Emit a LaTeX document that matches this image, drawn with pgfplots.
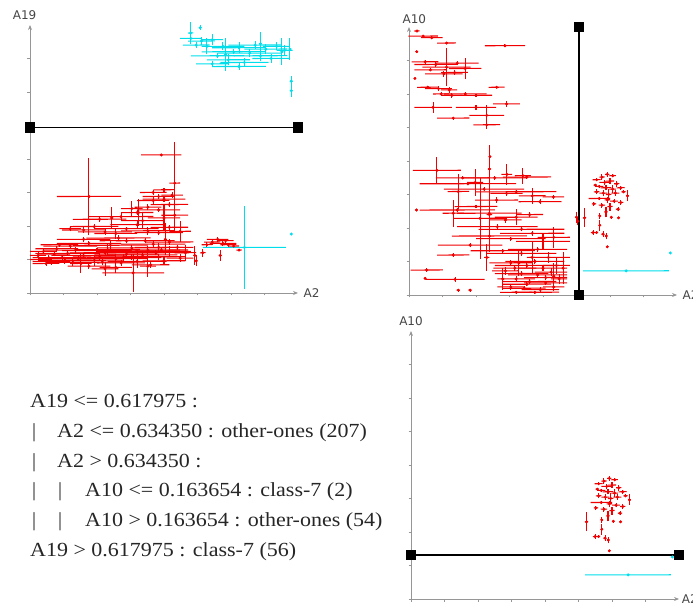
\documentclass[border=0pt]{standalone}
\usepackage{fontspec}
\setmainfont{Liberation Serif}
\newfontfamily\lblfont{DejaVu Sans}
\usepackage{graphicx}
\usepackage{pgfplots}
\pgfplotsset{compat=1.18}
\usepackage{pgfplotstable}
\usetikzlibrary{arrows.meta}

\definecolor{cls}{RGB}{0,222,235}
\definecolor{oth}{RGB}{240,0,0}
\definecolor{axgray}{RGB}{150,150,150}
\definecolor{lblgray}{RGB}{70,70,70}

\pgfplotsset{
  treeaxis/.style={
    scale only axis, width=268bp, height=268bp,
    xmin=0, xmax=1, ymin=0, ymax=1,
    axis lines=left,
    axis line style={axgray, line width=0.8bp, -{Stealth[length=5bp,width=4bp]}},
    xtick={0,0.125,...,0.875}, ytick={0,0.125,...,0.875},
    xticklabels={}, yticklabels={},
    tick align=outside, major tick length=2.5bp,
    tick style={axgray, line width=0.6bp},
    clip=false, anchor=south west,
  },
  split/.style={black, line width=1.6bp, mark=square*, mark size=4.5bp},
}
\tikzset{lbl/.style={font=\lblfont\fontsize{12bp}{12bp}\selectfont, text=lblgray, inner sep=0pt}}
\newcommand\treetxt[1]{\scalebox{1.1}[1]{#1}}

% one series: horizontal spread, vertical spread, then the points
\newcommand\errseries[3][]{%
  \addplot[draw=#2, color=#2, line width=1.05bp, quiver={u=2*\thisrow{ex}, v=0.0004}, #1]
    table[x expr=\thisrow{x}-\thisrow{ex}, y=y] {#3};
  \addplot[draw=#2, color=#2, line width=1.05bp, quiver={u=0, v=2*\thisrow{ey}}, #1]
    table[x=x, y expr=\thisrow{y}-\thisrow{ey}] {#3};
  \addplot[#2, only marks, mark=*, mark size=1.3bp, #1] table[x=x, y=y] {#3};
}

% A2, A19 and their spreads, other-ones
\pgfplotstableread{
x y ex ey
0.04 0.125 0.04 0.010
0.08 0.118 0.07 0.012
0.12 0.132 0.09 0.008
0.16 0.114 0.10 0.015
0.20 0.140 0.12 0.010
0.24 0.122 0.11 0.020
0.28 0.150 0.13 0.012
0.32 0.128 0.12 0.018
0.36 0.145 0.12 0.010
0.40 0.118 0.11 0.025
0.44 0.160 0.12 0.015
0.48 0.135 0.10 0.012
0.52 0.155 0.08 0.020
0.55 0.170 0.06 0.010
0.58 0.150 0.04 0.030
0.05 0.155 0.05 0.010
0.10 0.165 0.08 0.012
0.15 0.175 0.10 0.010
0.22 0.185 0.12 0.008
0.30 0.178 0.14 0.015
0.38 0.168 0.13 0.010
0.46 0.182 0.12 0.012
0.52 0.190 0.09 0.010
0.14 0.148 0.12 0.010
0.26 0.138 0.10 0.014
0.34 0.112 0.09 0.010
0.42 0.142 0.13 0.012
0.50 0.120 0.08 0.015
0.03 0.140 0.03 0.012
0.18 0.128 0.15 0.010
0.29 0.162 0.12 0.020
0.36 0.195 0.10 0.010
0.45 0.105 0.07 0.010
0.22 0.100 0.08 0.012
0.32 0.095 0.06 0.020
0.56 0.130 0.05 0.015
0.09 0.145 0.06 0.008
0.40 0.155 0.15 0.010
0.48 0.170 0.09 0.018
0.19 0.110 0.04 0.035
0.28 0.090 0.05 0.025
0.44 0.100 0.03 0.040
0.07 0.132 0.06 0.010
0.13 0.122 0.10 0.012
0.25 0.158 0.13 0.010
0.35 0.132 0.14 0.012
0.47 0.150 0.11 0.010
0.11 0.180 0.07 0.008
0.20 0.200 0.10 0.010
0.33 0.205 0.12 0.012
0.43 0.195 0.11 0.010
0.06 0.110 0.05 0.008
0.17 0.160 0.12 0.010
0.27 0.115 0.12 0.010
0.38 0.135 0.14 0.012
0.49 0.160 0.10 0.010
0.20 0.235 0.08 0.010
0.28 0.228 0.10 0.012
0.36 0.240 0.12 0.008
0.44 0.232 0.10 0.015
0.52 0.245 0.07 0.010
0.24 0.248 0.09 0.008
0.32 0.222 0.08 0.020
0.48 0.225 0.09 0.010
0.40 0.255 0.10 0.012
0.56 0.230 0.04 0.040
0.15 0.240 0.04 0.010
0.26 0.275 0.10 0.010
0.34 0.285 0.12 0.015
0.42 0.270 0.08 0.030
0.50 0.280 0.06 0.050
0.40 0.300 0.06 0.010
0.44 0.320 0.05 0.012
0.48 0.310 0.08 0.008
0.52 0.330 0.07 0.010
0.46 0.345 0.06 0.015
0.38 0.315 0.04 0.030
0.54 0.290 0.05 0.060
0.50 0.350 0.08 0.010
0.46 0.375 0.05 0.010
0.50 0.385 0.04 0.008
0.53 0.365 0.04 0.012
0.48 0.360 0.06 0.010
0.22 0.360 0.12 0.145
0.49 0.515 0.075 0.005
0.54 0.410 0.02 0.155
0.385 0.075 0.115 0.07
0.505 0.200 0.005 0.06
0.405 0.300 0.005 0.05
0.305 0.280 0.005 0.04
0.615 0.140 0.005 0.035
0.62 0.120 0.005 0.02
0.645 0.150 0.01 0.015
0.71 0.140 0.005 0.02
0.78 0.160 0.01 0.005
0.68 0.190 0.03 0.01
0.70 0.200 0.04 0.008
0.72 0.185 0.05 0.01
0.74 0.180 0.03 0.008
0.76 0.175 0.02 0.006
0.66 0.180 0.02 0.01
0.73 0.195 0.03 0.008
}\othAtwoAnineteen

% A2, A19, class-7
\pgfplotstableread{
x y ex ey
0.60 0.950 0.04 0.02
0.64 0.940 0.05 0.015
0.68 0.945 0.04 0.02
0.62 0.925 0.05 0.01
0.72 0.920 0.08 0.015
0.78 0.915 0.10 0.02
0.84 0.925 0.10 0.015
0.88 0.910 0.08 0.02
0.92 0.920 0.05 0.015
0.95 0.905 0.03 0.02
0.76 0.900 0.12 0.01
0.82 0.895 0.12 0.015
0.70 0.885 0.10 0.01
0.86 0.885 0.10 0.02
0.90 0.875 0.07 0.015
0.74 0.870 0.08 0.02
0.80 0.860 0.09 0.015
0.68 0.855 0.06 0.01
0.78 0.845 0.10 0.012
0.60 0.970 0.01 0.04
0.635 0.990 0.005 0.01
0.73 0.890 0.005 0.06
0.94 0.900 0.005 0.05
0.97 0.910 0.005 0.04
0.975 0.790 0.005 0.02
0.975 0.755 0.005 0.025
0.86 0.930 0.005 0.045
0.66 0.920 0.005 0.03
0.80 0.170 0.155 0.155
0.975 0.220 0 0
}\clsAtwoAnineteen

% A2, A10, other-ones with A19 <= 0.617975
\pgfplotstableread{
x y ex ey
0.053 0.966 0.055 0.005
0.030 0.985 0.010 0.004
0.085 0.960 0.040 0.006
0.140 0.940 0.035 0.005
0.358 0.930 0.075 0.005
0.029 0.908 0.004 0.004
0.060 0.870 0.050 0.008
0.100 0.860 0.080 0.010
0.140 0.850 0.090 0.070
0.180 0.865 0.080 0.008
0.210 0.845 0.060 0.040
0.080 0.840 0.060 0.006
0.130 0.825 0.070 0.010
0.170 0.830 0.050 0.008
0.022 0.808 0.003 0.003
0.070 0.775 0.040 0.006
0.110 0.770 0.050 0.008
0.150 0.765 0.030 0.010
0.120 0.750 0.030 0.006
0.160 0.745 0.040 0.010
0.210 0.750 0.080 0.008
0.250 0.745 0.060 0.006
0.327 0.775 0.030 0.004
0.090 0.700 0.070 0.020
0.250 0.700 0.075 0.008
0.364 0.713 0.050 0.010
0.165 0.660 0.060 0.006
0.290 0.670 0.065 0.040
0.290 0.635 0.050 0.015
0.302 0.516 0.004 0.045
0.104 0.465 0.090 0.050
0.300 0.470 0.006 0.060
0.200 0.437 0.100 0.006
0.320 0.437 0.120 0.008
0.440 0.440 0.090 0.006
0.247 0.420 0.030 0.050
0.365 0.450 0.020 0.040
0.425 0.445 0.030 0.030
0.220 0.415 0.180 0.006
0.280 0.395 0.150 0.008
0.184 0.386 0.040 0.065
0.400 0.385 0.150 0.006
0.327 0.354 0.080 0.010
0.364 0.379 0.060 0.008
0.489 0.348 0.080 0.010
0.539 0.366 0.040 0.008
0.460 0.370 0.050 0.030
0.028 0.317 0.003 0.003
0.180 0.317 0.140 0.006
0.300 0.305 0.120 0.008
0.165 0.305 0.040 0.050
0.265 0.286 0.100 0.150
0.300 0.300 0.010 0.140
0.400 0.290 0.080 0.030
0.360 0.280 0.060 0.010
0.450 0.300 0.050 0.010
0.250 0.330 0.080 0.006
0.330 0.255 0.150 0.010
0.420 0.245 0.160 0.008
0.228 0.186 0.120 0.008
0.300 0.220 0.140 0.010
0.380 0.210 0.130 0.008
0.460 0.230 0.120 0.010
0.500 0.200 0.100 0.030
0.540 0.215 0.060 0.040
0.165 0.149 0.060 0.006
0.290 0.140 0.010 0.050
0.350 0.165 0.120 0.008
0.420 0.155 0.130 0.010
0.480 0.170 0.110 0.008
0.520 0.140 0.080 0.020
0.380 0.120 0.080 0.010
0.440 0.110 0.120 0.008
0.500 0.100 0.090 0.010
0.550 0.110 0.050 0.030
0.360 0.090 0.050 0.015
0.420 0.080 0.100 0.010
0.480 0.075 0.110 0.008
0.530 0.085 0.060 0.015
0.400 0.060 0.070 0.012
0.450 0.050 0.100 0.010
0.510 0.045 0.080 0.008
0.560 0.060 0.030 0.020
0.380 0.030 0.050 0.010
0.430 0.025 0.080 0.008
0.490 0.020 0.070 0.010
0.540 0.030 0.040 0.015
0.470 0.010 0.090 0.006
0.400 0.010 0.060 0.006
0.066 0.093 0.060 0.006
0.060 0.062 0.003 0.003
0.172 0.058 0.110 0.008
0.184 0.018 0.006 0.006
0.228 0.018 0.006 0.006
0.460 0.140 0.010 0.060
0.410 0.120 0.005 0.050
0.350 0.060 0.005 0.040
0.540 0.070 0.004 0.050
0.575 0.100 0.004 0.060
0.470 0.125 0.110 0.008
0.510 0.065 0.080 0.010
0.440 0.040 0.090 0.008
0.395 0.100 0.080 0.010
0.625 0.290 0.004 0.020
0.630 0.275 0.004 0.015
0.700 0.430 0.015 0.005
0.720 0.440 0.010 0.010
0.740 0.450 0.008 0.008
0.760 0.445 0.012 0.006
0.730 0.420 0.020 0.008
0.750 0.425 0.015 0.010
0.775 0.415 0.010 0.012
0.710 0.405 0.015 0.006
0.735 0.400 0.020 0.010
0.760 0.395 0.012 0.015
0.790 0.400 0.015 0.008
0.700 0.385 0.010 0.010
0.725 0.380 0.015 0.012
0.745 0.375 0.010 0.020
0.770 0.380 0.015 0.010
0.800 0.385 0.008 0.006
0.815 0.370 0.005 0.020
0.710 0.360 0.040 0.005
0.740 0.355 0.010 0.012
0.765 0.350 0.015 0.008
0.790 0.345 0.010 0.010
0.720 0.335 0.012 0.010
0.750 0.330 0.010 0.015
0.780 0.320 0.008 0.008
0.735 0.310 0.006 0.020
0.690 0.340 0.008 0.008
0.695 0.410 0.006 0.006
0.755 0.290 0.004 0.006
0.782 0.288 0.004 0.004
0.712 0.295 0.004 0.010
0.655 0.288 0.006 0.035
0.687 0.233 0.008 0.008
0.700 0.233 0.006 0.005
0.724 0.227 0.006 0.010
0.736 0.220 0.004 0.012
0.740 0.180 0.003 0.003
0.712 0.260 0.003 0.020
}\othAtwoAten

% A2, A10, class-7 with A19 <= 0.617975
\pgfplotstableread{
x y ex ey
0.810 0.090 0.160 0.003
0.975 0.157 0 0
}\clsAtwoAten

\begin{document}
\begin{tikzpicture}
\path[use as bounding box] (0,0) rectangle (693bp,606bp);

% A19 split
\begin{axis}[treeaxis, at={(30bp,313bp)}]
  \errseries{oth}{\othAtwoAnineteen}
  \errseries{cls}{\clsAtwoAnineteen}
  \addplot[split] coordinates {(0,0.617975) (1,0.617975)};
  \node[lbl, anchor=south] at (-0.02,1.02) {A19};
  \node[lbl, anchor=west] at (1.02,0) {A2};
\end{axis}

% A2 split
\begin{axis}[treeaxis, at={(409bp,311bp)}]
  \errseries{oth}{\othAtwoAten}
  \errseries{cls}{\clsAtwoAten}
  \addplot[split] coordinates {(0.634350,1) (0.634350,0)};
  \node[lbl, anchor=south] at (0.02,1.01) {A10};
  \node[lbl, anchor=west] at (1.02,0) {A2};
\end{axis}

% A10 split
\begin{axis}[treeaxis, at={(411bp,7bp)}]
  \errseries[restrict expr to domain={\thisrow{x}}{0.634350:1}]{oth}{\othAtwoAten}
  \errseries{cls}{\clsAtwoAten}
  \addplot[split] coordinates {(0,0.163654) (1,0.163654)};
  \node[lbl, anchor=south] at (0,1.02) {A10};
  \node[lbl, anchor=west] at (1.01,0) {A2};
\end{axis}

\begin{scope}[every node/.style={anchor=base west, inner sep=0pt,
    font=\fontsize{20bp}{20bp}\selectfont, text=black!85}]
  \node at (30bp,198bp) {\treetxt{A19 <= 0.617975 :}};
  \node at (32bp,168bp) {|};
  \node at (57bp,168bp) {\treetxt{A2 <= 0.634350 : other-ones (207)}};
  \node at (32bp,138bp) {|};
  \node at (57bp,138bp) {\treetxt{A2 > 0.634350 :}};
  \node at (32bp,109bp) {|};
  \node at (58bp,109bp) {|};
  \node at (85bp,109bp) {\treetxt{A10 <= 0.163654 : class-7 (2)}};
  \node at (32bp,79bp) {|};
  \node at (58bp,79bp) {|};
  \node at (85bp,79bp) {\treetxt{A10 > 0.163654 : other-ones (54)}};
  \node at (30bp,49bp) {\treetxt{A19 > 0.617975 : class-7 (56)}};
\end{scope}
\end{tikzpicture}
\end{document}
